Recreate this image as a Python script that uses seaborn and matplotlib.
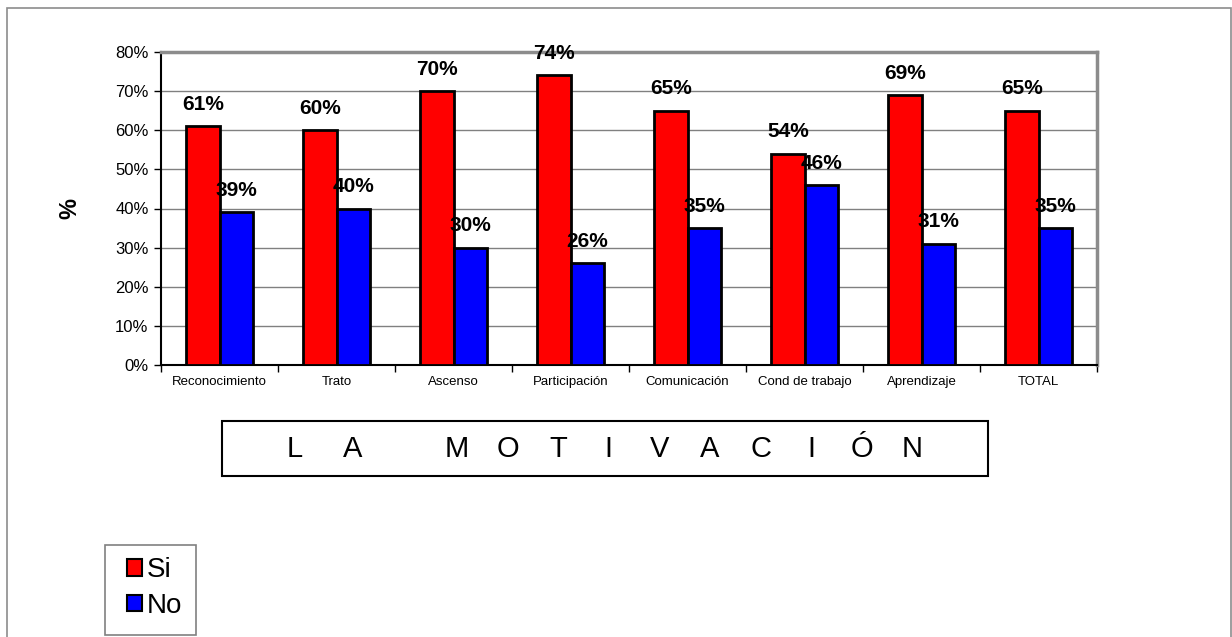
import matplotlib
matplotlib.use("Agg")
import matplotlib.pyplot as plt
import seaborn as sns
import pandas as pd
import numpy as np
from matplotlib.patches import Rectangle, Patch
from matplotlib.ticker import FixedLocator, PercentFormatter

categories = ["Reconocimiento", "Trato", "Ascenso", "Participación", "Comunicación",
              "Cond de trabajo", "Aprendizaje", "TOTAL"]
si_values = [61, 60, 70, 74, 65, 54, 69, 65]
no_values = [39, 40, 30, 26, 35, 46, 31, 35]
series_names = ["Si", "No"]
series_colors = ["#FF0000", "#0000FF"]
title_letters = list("LAMOTIVACIÓN")

sns.set_theme(style="white")
plt.rcParams["font.family"] = ["Liberation Sans", "DejaVu Sans"]
plt.rcParams["text.color"] = "black"
plt.rcParams["axes.labelcolor"] = "black"
plt.rcParams["xtick.color"] = "black"
plt.rcParams["ytick.color"] = "black"

df = pd.DataFrame({
    "Categoria": categories * 2,
    "Valor": si_values + no_values,
    "Serie": [series_names[0]] * len(categories) + [series_names[1]] * len(categories),
})

W, H = 1232, 637
fig = plt.figure(figsize=(W / 100, H / 100), dpi=100)
fig.patch.set_facecolor("white")

# outer border
fig.add_artist(Rectangle((7 / W, -0.01), (1231 - 7) / W, 1 - 8 / H + 0.01,
                         transform=fig.transFigure, fill=False,
                         edgecolor="#8c8c8c", linewidth=1.2))

ax = fig.add_axes([161 / W, 1 - 365 / H, (1097 - 161) / W, (365 - 52) / H])
sns.barplot(data=df, x="Categoria", y="Valor", hue="Serie", palette=series_colors,
            width=0.57, edgecolor="black", linewidth=2, ax=ax, legend=False,
            saturation=1, zorder=3)

ax.set_ylim(0, 80)
ax.set_xlim(-0.5, len(categories) - 0.5)
ax.yaxis.set_major_locator(FixedLocator(np.arange(0, 81, 10)))
ax.yaxis.set_major_formatter(PercentFormatter(decimals=0))
ax.grid(axis="y", color="#808080", linewidth=1, zorder=0)
ax.set_axisbelow(True)
ax.tick_params(axis="y", labelsize=12, length=5, width=1, color="black", left=True, pad=4,
               labelcolor="black")
ax.tick_params(axis="x", which="major", labelsize=9.5, length=0, pad=8, labelcolor="black")
ax.xaxis.set_minor_locator(FixedLocator(np.arange(-0.5, len(categories), 1)))
ax.tick_params(axis="x", which="minor", length=5, width=1, color="black", bottom=True)
ax.set_xlabel("")
ax.set_ylabel("%", fontsize=17, fontweight="bold", labelpad=24, color="black")

for s in ["left", "bottom"]:
    ax.spines[s].set_color("black")
    ax.spines[s].set_linewidth(1.5)
for s in ["top", "right"]:
    ax.spines[s].set_color("#8c8c8c")
    ax.spines[s].set_linewidth(2.5)

# data labels
for container in ax.containers:
    for bar in container:
        h = bar.get_height()
        ax.annotate(f"{h:.0f}%", (bar.get_x() + bar.get_width() / 2, h),
                    xytext=(0, 9), textcoords="offset points", ha="center",
                    va="bottom", fontsize=15, fontweight="bold", zorder=5, color="black")

# title box
fig.add_artist(Rectangle((222 / W, 1 - 476 / H), (988 - 222) / W, (476 - 421) / H,
                         transform=fig.transFigure, fill=False,
                         edgecolor="black", linewidth=1.5))
letter_x = [295, 353] + [457 + 50.6 * k for k in range(10)]
for lx, ch in zip(letter_x, title_letters):
    fig.text(lx / W, 1 - 449 / H, ch, ha="center", va="center", fontsize=21, color="black")

# legend frame + legend
fig.add_artist(Rectangle((105 / W, 1 - 635 / H), (196 - 105) / W, (635 - 545) / H,
                         transform=fig.transFigure, fill=False,
                         edgecolor="#808080", linewidth=1.2))
handles = [Patch(facecolor=c, edgecolor="black", linewidth=1.5) for c in series_colors]
leg = fig.legend(handles, series_names, loc="upper left",
                 bbox_to_anchor=(127 / W, 1 - 557 / H), fontsize=20,
                 frameon=False, handlelength=0.55, handleheight=0.55,
                 handletextpad=0.15, borderpad=0, labelspacing=0.35, borderaxespad=0)
for t in leg.get_texts():
    t.set_color("black")

fig.savefig("out.png", dpi=100)
